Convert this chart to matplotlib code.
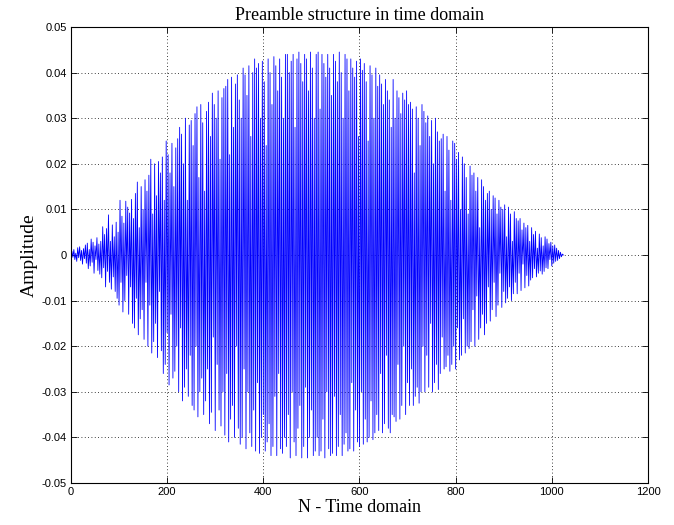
import numpy as np
import matplotlib
matplotlib.use('Agg')
import matplotlib.pyplot as plt

# amplitude, in units of 1e-4, one value every 2 samples (0..1024)
STEP = 2
amp_1e4 = [
    0, 8, -5, 12, -10, 4, -14, 16, -6, 18, -12, 10, -20, 14, -8, 22,
    -18, 26, -30, 12, -24, 35, -16, 28, -40, 20, -10, 38, -34, 24, -42, 30,
    -50, 62, -28, 45, -70, 58, -36, 88, -60, 30, -75, 66, -48, 40, -80, 72,
    -95, 50, -110, 120, -60, 85, -125, 70, -100, 118, -45, 105, -130, 92, -70, 122,
    -150, 80, -160, 135, -95, 160, -175, 60, -140, 150, -120, 100, -185, 165, -60, 140,
    -200, 175, -110, 210, -215, 90, -190, 200, -150, 130, -225, 205, -80, 180, -210, 215,
    -260, 120, -240, 250, -170, 220, -285, 180, -130, 245, -270, 150, -255, 235, -200, 255,
    -300, 280, -160, 265, -320, 200, -290, 300, -250, 120, -310, 285, -220, 295, -330, 240,
    -340, 310, -200, 325, -355, 170, -300, 330, -270, 290, -350, 140, -320, 315, -250, 335,
    -370, 260, -345, 355, -180, 330, -385, 300, -240, 360, -340, 210, -375, 345, -300, 365,
    -395, 370, -260, 385, -410, 220, -360, 390, -330, 280, -400, 375, -200, 395, -380, 340,
    -415, 300, -400, 410, -250, 395, -425, 350, -300, 415, -390, 260, -420, 400, -340, 430,
    -430, 410, -280, 420, -435, 300, -400, 425, -350, 380, -430, 240, -410, 430, -370, 400,
    -440, 330, -420, 435, -310, 415, -440, 360, -260, 430, -425, 390, -435, 300, -400, 440,
    -420, 440, -350, 400, -445, 425, -300, 440, -410, 280, -440, 430, -380, 445, -330, 420,
    -445, 380, -420, 440, -290, 430, -445, 360, -400, 445, -340, 410, -440, 300, -430, 440,
    -400, 445, -440, 320, -430, 440, -360, 420, -445, 390, -300, 440, -425, 410, -440, 350,
    -435, 440, -310, 425, -440, 380, -420, 445, -350, 400, -440, 300, -415, 440, -390, 430,
    -430, 360, -425, 430, -280, 410, -430, 390, -340, 425, -410, 260, -420, 430, -300, 405,
    -415, 420, -360, 380, -410, 250, -400, 415, -320, 395, -405, 300, -390, 410, -350, 370,
    -385, 395, -260, 375, -390, 330, -370, 385, -220, 360, -380, 340, -390, 280, -350, 385,
    -355, 300, -365, 360, -240, 345, -360, 310, -330, 355, -200, 340, -350, 360, -280, 330,
    -330, 335, -250, 320, -330, 180, -310, 325, -290, 300, -325, 240, -300, 330, -200, 315,
    -300, 290, -220, 305, -290, 260, -150, 295, -300, 200, -280, 300, -240, 270, -295, 250,
    -260, 255, -180, 265, -250, 140, -245, 260, -220, 230, -255, 120, -240, 250, -200, 245,
    -250, 210, -160, 225, -230, 100, -220, 215, -140, 200, -215, 170, -200, 90, -205, 195,
    -190, 175, -120, 180, -200, 140, -90, 170, -185, 60, -160, 165, -130, 150, -175, 120,
    -150, 135, -70, 140, -145, 100, -120, 130, -60, 125, -135, 90, -110, 120, -40, 105,
    -115, 100, -80, 110, -105, 40, -95, 105, -70, 90, -100, 30, -85, 95, -60, 80,
    -85, 75, -40, 80, -78, 55, -20, 70, -72, 60, -45, 65, -68, 30, -55, 60,
    -50, 45, -30, 52, -48, 15, -40, 46, -35, 38, -42, 20, -36, 40, -28, 35,
    -30, 25, -10, 28, -24, 20, -18, 22, -14, 15, -12, 10, -8, 6, -4, 2,
    0,
]
amplitude = np.array(amp_1e4) * 1e-4
n = np.arange(len(amplitude)) * STEP

x_ticks = [0, 200, 400, 600, 800, 1000, 1200]
x_labels = ['0', '200', '400', '600', '800', '1000', '1200']
y_ticks = [-0.05, -0.04, -0.03, -0.02, -0.01, 0, 0.01, 0.02, 0.03, 0.04, 0.05]
y_labels = ['-0.05', '-0.04', '-0.03', '-0.02', '-0.01', '0', '0.01', '0.02', '0.03', '0.04', '0.05']

serif = ['Liberation Serif', 'DejaVu Serif']
sans = ['Liberation Sans', 'DejaVu Sans']

fig = plt.figure(figsize=(6.74, 5.25), dpi=100)
ax = fig.add_axes([0.1053, 0.08, 0.8561, 0.8686])
ax.plot(n, amplitude, color='#0000ff', linewidth=0.6)

ax.set_xlim(0, 1200)
ax.set_ylim(-0.05, 0.05)
ax.set_xticks(x_ticks)
ax.set_xticklabels(x_labels, family=sans, fontsize=8)
ax.set_yticks(y_ticks)
ax.set_yticklabels(y_labels, family=sans, fontsize=8)
ax.tick_params(direction='in', length=4, width=0.6, top=True, right=True, pad=3)
ax.grid(True, color='black', linestyle=(0, (1, 3)), linewidth=0.6)
for s in ax.spines.values():
    s.set_linewidth(0.8)

ax.set_title('Preamble structure in time domain', family=serif, fontsize=13, pad=5)
ax.set_xlabel('N - Time domain', family=serif, fontsize=13, labelpad=1)
ax.set_ylabel('Amplitude', family=serif, fontsize=14, labelpad=3)

fig.savefig('out.png', dpi=100)
